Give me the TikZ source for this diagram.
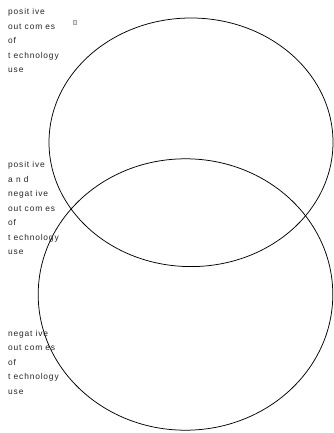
\documentclass[tikz,border=0pt]{standalone}
\usepackage{fontspec}
\newfontfamily\lblfont[LetterSpace=10]{Liberation Sans}
\begin{document}
\begin{tikzpicture}[x=1pt,y=1pt,
  lbl/.style={anchor=north west,inner sep=0pt,align=left,
    font=\lblfont\fontsize{8.4}{14.5}\selectfont,text=black!85},
  venn/.style={draw=black,line width=0.75pt}]
\useasboundingbox (0,0) rectangle (333,-433);
\fill[white] (0,0) rectangle (333,-433);
\draw[venn] (191,-142.3) ellipse [x radius=142,y radius=124.3];
\draw[venn] (185.5,-294.5) ellipse [x radius=147.3,y radius=135.7];
\node[lbl] (pos) at (8,-8.3) {posit ive\\out com es\\of\\t echnology\\use};
\node[lbl] (both) at (8,-161.5) {posit ive\\a n d\\negat ive\\out com es\\of\\t echnology\\use};
\node[lbl] (neg) at (8,-330) {negat ive\\out com es\\of\\t echnology\\use};
\node[draw=black!35,fill=black!10,line width=0.4pt,inner sep=0pt,
  minimum width=3pt,minimum height=4pt] (tofu) at (74.5,-22.5) {};
\end{tikzpicture}
\end{document}
